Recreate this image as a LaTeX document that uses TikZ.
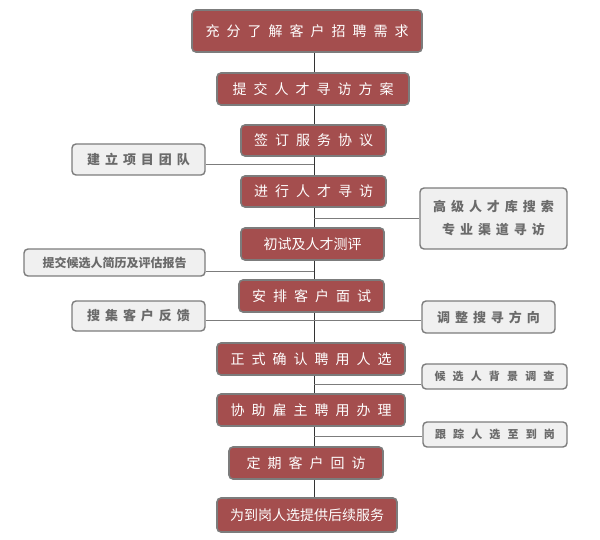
\documentclass[tikz,border=0pt]{standalone}
\usepackage{fontspec}
\newfontfamily\cjk{Noto Sans CJK SC}
\newfontfamily\cjkwide[LetterSpace=50]{Noto Sans CJK SC}
\newfontfamily\cjkside[LetterSpace=38]{Noto Sans CJK SC}
\newfontfamily\cjksmall[LetterSpace=65]{Noto Sans CJK SC}
\definecolor{stepred}{HTML}{A44E4E}
\definecolor{boxgray}{HTML}{7C7C7C}
\definecolor{sidefill}{HTML}{F0F0F0}
\definecolor{sidetext}{HTML}{6A6A6A}
\begin{document}
\begin{tikzpicture}[
            x=1pt, y=-1pt,
            stepbox/.style={rectangle, rounded corners=4pt, draw=boxgray, line width=1.6pt, fill=stepred, text=white, align=center, inner sep=0pt},
            sidebox/.style={rectangle, rounded corners=4pt, draw=boxgray, line width=1.4pt, fill=sidefill, text=sidetext, align=center, inner sep=0pt},
            trunk/.style={line width=0.8pt, black!80},
            branch/.style={line width=0.8pt, boxgray}
        ]
        \useasboundingbox (0,0) rectangle (600,540);

        % Main process boxes
        \node[stepbox, minimum width=230pt, minimum height=42pt, font=\cjkwide\fontsize{14}{16}\selectfont] (need) at (307,31) {充分了解客户招聘需求};
        \node[stepbox, minimum width=192pt, minimum height=32pt, font=\cjkwide\fontsize{14}{16}\selectfont] (plan) at (313,89) {提交人才寻访方案};
        \node[stepbox, minimum width=145pt, minimum height=31pt, font=\cjkwide\fontsize{14}{16}\selectfont] (sign) at (313.5,140.5) {签订服务协议};
        \node[stepbox, minimum width=145pt, minimum height=31pt, font=\cjkwide\fontsize{14}{16}\selectfont] (hunt) at (313.5,191.5) {进行人才寻访};
        \node[stepbox, minimum width=143pt, minimum height=32pt, font=\cjk\fontsize{14}{16}\selectfont] (test) at (312.5,244) {初试及人才测评};
        \node[stepbox, minimum width=145pt, minimum height=32pt, font=\cjkwide\fontsize{14}{16}\selectfont] (meet) at (311.5,296) {安排客户面试};
        \node[stepbox, minimum width=188pt, minimum height=32pt, font=\cjkwide\fontsize{14}{16}\selectfont] (hire) at (311,359) {正式确认聘用人选};
        \node[stepbox, minimum width=188pt, minimum height=32pt, font=\cjkwide\fontsize{14}{16}\selectfont] (help) at (311,410) {协助雇主聘用办理};
        \node[stepbox, minimum width=154pt, minimum height=32pt, font=\cjkwide\fontsize{14}{16}\selectfont] (visit) at (306,463) {定期客户回访};
        \node[stepbox, minimum width=180pt, minimum height=34pt, font=\cjk\fontsize{14}{16}\selectfont] (after) at (307,515) {为到岗人选提供后续服务};

        % Side boxes
        \node[sidebox, minimum width=133pt, minimum height=31pt, font=\cjkside\bfseries\fontsize{13}{15}\selectfont] (team) at (138.5,159.5) {建立项目团队};
        \node[sidebox, minimum width=147pt, minimum height=61pt, font=\cjkside\bfseries\fontsize{13}{23}\selectfont] (search) at (493.5,218.5) {高级人才库搜索\\专业渠道寻访};
        \node[sidebox, minimum width=181pt, minimum height=27pt, font=\cjk\bfseries\fontsize{12}{14}\selectfont] (report) at (114.5,262.5) {提交候选人简历及评估报告};
        \node[sidebox, minimum width=133pt, minimum height=30pt, font=\cjkside\bfseries\fontsize{13}{15}\selectfont] (feedback) at (138.5,316) {搜集客户反馈};
        \node[sidebox, minimum width=133pt, minimum height=32pt, font=\cjkside\bfseries\fontsize{13}{15}\selectfont] (adjust) at (488.5,317) {调整搜寻方向};
        \node[sidebox, minimum width=145pt, minimum height=25pt, font=\cjksmall\bfseries\fontsize{11}{13}\selectfont] (check) at (494.5,376.5) {候选人背景调查};
        \node[sidebox, minimum width=144pt, minimum height=25pt, font=\cjksmall\bfseries\fontsize{11}{13}\selectfont] (track) at (495,434.5) {跟踪人选至到岗};

        % Trunk between steps
        \coordinate (axis) at (314,0);
        \begin{scope}[on background layer/.try]
        \foreach \a/\b in {need/plan, plan/sign, sign/hunt, hunt/test, test/meet, meet/hire, hire/help, help/visit, visit/after}
            \draw[trunk] (\a.south -| axis) -- (\b.north -| axis);
        \end{scope}

        % Junctions on the trunk
        \coordinate (j1) at (314,164);
        \coordinate (j2) at (314,218);
        \coordinate (j3) at (314,271);
        \coordinate (j4) at (314,320);
        \coordinate (j5) at (314,384);
        \coordinate (j6) at (314,436);

        % Side connectors
        \draw[branch] (team.east |- j1) -- (j1);
        \draw[branch] (search.west |- j2) -- (j2);
        \draw[branch] (report.east |- j3) -- (j3);
        \draw[branch] (feedback.east |- j4) -- (j4);
        \draw[branch] (adjust.west |- j4) -- (j4);
        \draw[branch] (check.west |- j5) -- (j5);
        \draw[branch] (track.west |- j6) -- (j6);

    \end{tikzpicture}
\end{document}
